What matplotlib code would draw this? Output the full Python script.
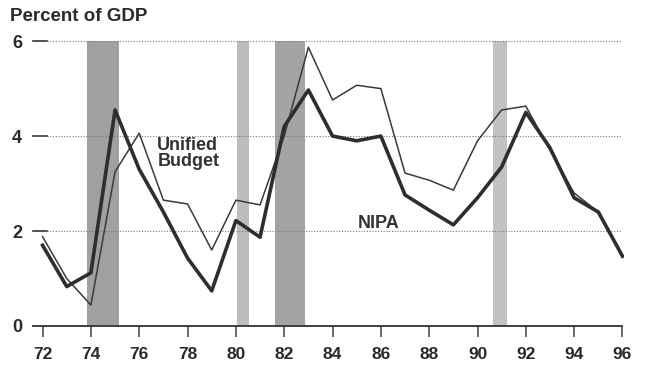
import matplotlib.pyplot as plt

years = list(range(72, 97))
nipa = [1.7, 0.83, 1.12, 4.55, 3.3, 2.4, 1.43, 0.74, 2.22, 1.87, 4.2, 4.97,
        4.0, 3.9, 4.0, 2.76, 2.44, 2.13, 2.7, 3.35, 4.5, 3.75, 2.7, 2.4, 1.47]
unified = [1.88, 1.0, 0.44, 3.25, 4.06, 2.65, 2.57, 1.6, 2.65, 2.55, 4.0, 5.87,
           4.76, 5.07, 5.0, 3.22, 3.07, 2.86, 3.9, 4.55, 4.63, 3.7, 2.8, 2.4, 1.47]

# recessions (start, end, shade)
rec_start = [73.85, 80.05, 81.6, 90.65]
rec_end = [75.15, 80.55, 82.85, 91.2]
rec_color = ['#a0a0a0', '#bdbdbd', '#a4a4a4', '#c2c2c2']

yticks = [0, 2, 4, 6]
xticks = list(range(72, 97, 2))

plt.rcParams['font.family'] = ['Liberation Sans', 'DejaVu Sans']

fig = plt.figure(figsize=(6.47, 3.76), dpi=100)
ax = fig.add_axes([0.049, 0.133, 0.915, 0.764])
ax.set_xlim(71.55, 96.05)
ax.set_ylim(0, 6.05)

for s, e, c in zip(rec_start, rec_end, rec_color):
    ax.axvspan(s, e, ymin=0, ymax=6 / 6.05, color=c, lw=0, zorder=1)

# grid lines: short solid dash then dotted
for y in yticks[1:]:
    ax.plot([71.6, 72.2], [y, y], color='#333333', lw=1.2, zorder=2)
    ax.plot([72.2, 96], [y, y], color='#777777', lw=0.8, ls=(0, (1, 1.5)), zorder=2)
ax.plot([71.6, 96], [0, 0], color='#333333', lw=1.3, zorder=3, clip_on=False)

ax.plot(years, unified, color='#3a3a3a', lw=1.1, zorder=4)
ax.plot(years, nipa, color='#2e2e2e', lw=2.6, zorder=5)

for sp in ax.spines.values():
    sp.set_visible(False)

ax.set_yticks(yticks)
ax.set_yticklabels([str(v) for v in yticks], fontsize=13, fontweight='bold', color='#2a2a2a')
ax.tick_params(axis='y', length=0, pad=7)
ax.set_xticks(xticks)
ax.set_xticklabels([str(v) for v in xticks], fontsize=12.5, fontweight='bold', color='#2a2a2a')
ax.tick_params(axis='x', length=8, width=1.1, color='#444444', pad=7)

ax.text(76.75, 3.98, 'Unified\nBudget', fontsize=13, fontweight='bold', color='#333333',
        linespacing=0.95, va='top', ha='left')
ax.text(85.05, 1.98, 'NIPA', fontsize=13, fontweight='bold', color='#333333',
        va='bottom', ha='left')

fig.text(0.016, 0.955, 'Percent of GDP', fontsize=13.5, fontweight='bold', color='#2a2a2a',
         va='center', ha='left')

fig.savefig('out.png', dpi=100)
